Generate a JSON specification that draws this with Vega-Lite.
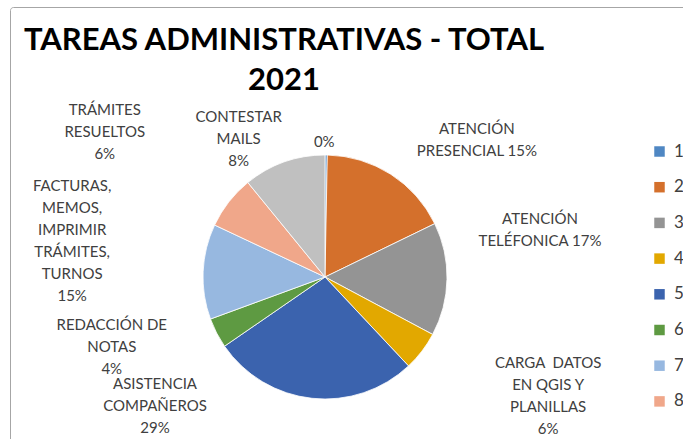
{
  "$schema": "https://vega.github.io/schema/vega-lite/v6.json",
  "width": 700,
  "height": 450,
  "autosize": "none",
  "padding": {"left": 10, "top": 7, "right": 0, "bottom": 0},
  "background": "#ffffff",
  "view": {"stroke": "#A6A6A6", "strokeWidth": 1, "cornerRadius": 3},
  "config": {
    "view": {"stroke": "#A6A6A6", "strokeWidth": 1},
    "text": {"font": "Lato", "fontSize": 15, "color": "#404040", "lineBreak": "\n", "lineHeight": 22, "baseline": "middle", "align": "center"}
  },
  "title": {
    "text": ["TAREAS ADMINISTRATIVAS - TOTAL", "2021"],
    "font": "Lato",
    "fontSize": 31,
    "fontWeight": "bold",
    "color": "#000000",
    "anchor": "start",
    "align": "center",
    "dx": 274,
    "lineHeight": 40,
    "offset": -90
  },
  "data": {
    "values": [
      {"cat": "1", "value": 0.3, "label": "0%"},
      {"cat": "2", "value": 17.5, "label": "ATENCIÓN\nPRESENCIAL 15%"},
      {"cat": "3", "value": 15.0, "label": "ATENCIÓN\nTELÉFONICA 17%"},
      {"cat": "4", "value": 5.2, "label": "CARGA\u00a0 DATOS\nEN QGIS Y\nPLANILLAS\n6%"},
      {"cat": "5", "value": 27.4, "label": "ASISTENCIA\nCOMPAÑEROS\n29%"},
      {"cat": "6", "value": 4.0, "label": "REDACCIÓN DE\nNOTAS\n4%"},
      {"cat": "7", "value": 12.6, "label": "FACTURAS,\nMEMOS,\nIMPRIMIR\nTRÁMITES,\nTURNOS\n15%"},
      {"cat": "8", "value": 7.1, "label": "TRÁMITES\nRESUELTOS\n6%"},
      {"cat": "9", "value": 10.9, "label": "CONTESTAR\nMAILS\n8%"}
    ]
  },
  "encoding": {
    "theta": {"field": "value", "type": "quantitative", "stack": true},
    "detail": {"field": "cat", "type": "nominal"},
    "order": {"field": "cat", "type": "ordinal"}
  },
  "layer": [
    {
      "mark": {"type": "arc", "outerRadius": 122, "x": 315, "y": 270, "stroke": "#ffffff", "strokeWidth": 0.8},
      "encoding": {
        "color": {
          "field": "cat",
          "type": "nominal",
          "scale": {
            "domain": ["1", "2", "3", "4", "5", "6", "7", "8", "9"],
            "range": ["#4F87C3", "#D4702C", "#949494", "#E2A800", "#3B63AE", "#5E9A42", "#97B8E0", "#F0A78A", "#C0C0C0"]
          },
          "legend": {
            "title": null,
            "orient": "none",
            "legendX": 641,
            "legendY": 136,
            "values": ["1", "2", "3", "4", "5", "6", "7", "8"],
            "symbolType": "square",
            "symbolSize": 110,
            "symbolStrokeWidth": 0,
            "labelFont": "Lato",
            "labelFontSize": 17,
            "labelColor": "#404040",
            "labelOffset": 6,
            "rowPadding": 17.7
          }
        }
      }
    },
    {"mark": {"type": "text", "radius": 135, "dx": -2, "dy": 0, "x": 315, "y": 270}, "encoding": {"text": {"condition": {"test": "datum.cat === '1'", "field": "label"}, "value": ""}}},
    {"mark": {"type": "text", "radius": 165, "dx": 63, "dy": -9, "x": 315, "y": 270}, "encoding": {"text": {"condition": {"test": "datum.cat === '2'", "field": "label"}, "value": ""}}},
    {"mark": {"type": "text", "radius": 150, "dx": 65, "dy": -61, "x": 315, "y": 270}, "encoding": {"text": {"condition": {"test": "datum.cat === '3'", "field": "label"}, "value": ""}}},
    {"mark": {"type": "text", "radius": 150, "dx": 104, "dy": -5, "x": 315, "y": 270}, "encoding": {"text": {"condition": {"test": "datum.cat === '4'", "field": "label"}, "value": ""}}},
    {"mark": {"type": "text", "radius": 150, "dx": -154, "dy": -42, "x": 315, "y": 270}, "encoding": {"text": {"condition": {"test": "datum.cat === '5'", "field": "label"}, "value": ""}}},
    {"mark": {"type": "text", "radius": 150, "dx": -80, "dy": -21, "x": 315, "y": 270}, "encoding": {"text": {"condition": {"test": "datum.cat === '6'", "field": "label"}, "value": ""}}},
    {"mark": {"type": "text", "radius": 150, "dx": -103, "dy": -84, "x": 315, "y": 270}, "encoding": {"text": {"condition": {"test": "datum.cat === '7'", "field": "label"}, "value": ""}}},
    {"mark": {"type": "text", "radius": 150, "dx": -102, "dy": -75, "x": 315, "y": 270}, "encoding": {"text": {"condition": {"test": "datum.cat === '8'", "field": "label"}, "value": ""}}},
    {"mark": {"type": "text", "radius": 150, "dx": -36, "dy": -19, "x": 315, "y": 270}, "encoding": {"text": {"condition": {"test": "datum.cat === '9'", "field": "label"}, "value": ""}}}
  ]
}
